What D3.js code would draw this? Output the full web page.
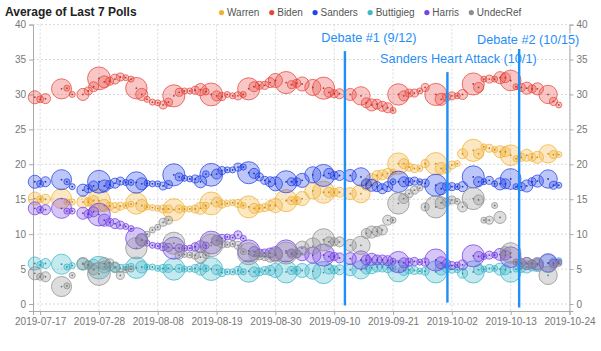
<!DOCTYPE html>
<html>
<head>
<meta charset="utf-8">
<script src="https://cdn.jsdelivr.net/npm/d3@7"></script>
<style>
  body { margin: 0; background: #fff; font-family: "Liberation Sans", Arial, sans-serif; }
</style>
</head>
<body>
<div id="chart"></div>
<script>
/* ----------------------- Data ----------------------- */
const pollDates = [
  "2019-07-16","2019-07-17","2019-07-18","2019-07-21","2019-07-22","2019-07-23","2019-07-25","2019-07-26","2019-07-27","2019-07-28",
  "2019-07-29","2019-07-30","2019-07-31","2019-08-01","2019-08-02","2019-08-03","2019-08-04","2019-08-05","2019-08-06","2019-08-07",
  "2019-08-08","2019-08-09","2019-08-10","2019-08-11","2019-08-12","2019-08-13","2019-08-14","2019-08-15","2019-08-16","2019-08-17",
  "2019-08-18","2019-08-19","2019-08-20","2019-08-21","2019-08-22","2019-08-23","2019-08-24","2019-08-25","2019-08-26","2019-08-27",
  "2019-08-28","2019-08-29","2019-08-30","2019-09-01","2019-09-02","2019-09-03","2019-09-04","2019-09-06","2019-09-08","2019-09-09",
  "2019-09-10","2019-09-11","2019-09-13","2019-09-15","2019-09-16","2019-09-17","2019-09-18","2019-09-19","2019-09-20","2019-09-21",
  "2019-09-22","2019-09-23","2019-09-24","2019-09-25","2019-09-26","2019-09-27","2019-09-29","2019-09-30","2019-10-01","2019-10-02",
  "2019-10-03","2019-10-04","2019-10-06","2019-10-07","2019-10-08","2019-10-09","2019-10-10","2019-10-11","2019-10-12","2019-10-13",
  "2019-10-14","2019-10-15","2019-10-16","2019-10-17","2019-10-18","2019-10-20","2019-10-21","2019-10-22"
];

// sample size of the poll released that day
const sampleSizes = [
  5600,1600,3300,13200,1200,1200,4800,2100,3300,17000,
  4800,2100,3300,2100,1200,1200,15000,4800,1200,1200,
  1200,2100,2100,16000,2100,1200,1200,2100,4800,1500,
  17000,3300,2100,1200,1200,2100,1200,16000,3300,2100,
  2100,3300,6500,16000,2100,2100,6500,8500,16000,3300,
  2100,3300,4800,11000,3300,4800,3300,3300,3300,1200,
  15000,3300,2100,2100,1200,2100,16000,4800,2100,2100,
  1200,3300,16000,3300,1200,2100,1200,4800,3300,14000,
  1200,2100,4800,2100,4800,11000,2100,1200
];

const warren = [
  15.1,15.0,15.0,15.1,14.6,14.6,14.6,14.6,14.8,14.8,
  14.1,14.0,13.8,14.0,14.1,14.3,14.4,14.1,13.9,13.8,
  13.7,13.6,13.6,13.5,13.6,13.6,13.6,13.6,13.7,14.1,
  14.4,14.6,14.3,14.4,14.5,14.4,14.1,13.9,13.7,13.7,
  13.8,14.1,14.1,14.8,14.8,14.8,15.1,16.2,16.0,16.0,
  16.0,16.0,15.8,15.8,17.0,17.8,18.4,18.5,18.7,18.9,
  20.1,20.1,19.6,19.4,19.4,20.1,20.1,19.4,19.3,19.9,
  20.1,21.5,22.0,21.5,22.5,22.3,22.1,21.8,21.8,21.3,
  20.8,21.0,21.3,21.0,21.0,21.5,21.4,21.4
];

const biden = [
  29.6,29.3,29.4,30.8,30.9,30.0,30.0,30.5,31.1,32.3,
  31.8,31.9,32.2,32.5,32.4,32.2,30.9,30.0,29.3,28.9,
  28.8,28.5,28.9,29.8,30.3,30.5,30.5,30.6,30.7,30.4,
  30.0,29.8,29.7,30.0,29.8,29.8,30.0,30.8,31.1,31.3,
  31.3,31.7,32.0,31.7,31.4,31.6,31.5,31.0,30.9,30.3,
  30.1,30.1,30.0,29.8,28.8,28.5,28.6,28.3,28.1,27.7,
  30.0,29.8,30.2,30.2,30.5,31.0,30.0,29.3,29.6,29.8,
  29.8,30.0,31.5,31.0,32.2,32.2,32.2,32.4,32.4,32.0,
  31.1,31.0,30.9,30.8,30.8,30.0,29.0,28.5
];

const sanders = [
  17.5,17.2,17.5,17.8,17.5,16.8,16.3,16.5,16.9,17.5,
  16.9,17.1,17.3,17.6,17.4,17.4,17.4,17.2,17.3,17.2,
  17.2,16.9,17.1,18.5,18.2,18.0,17.9,17.9,17.5,18.6,
  18.5,18.6,19.1,19.2,19.2,19.6,19.6,18.8,18.7,18.2,
  17.7,17.5,17.2,17.5,17.5,17.5,17.7,18.5,18.4,18.7,
  18.4,18.4,18.4,18.2,17.2,17.0,16.8,16.5,16.8,17.5,
  17.5,17.5,17.5,17.6,17.5,17.3,17.0,16.5,16.8,16.8,
  16.8,16.8,18.2,17.5,17.5,17.7,17.2,17.2,17.2,17.9,
  16.8,16.8,16.9,17.5,17.6,17.9,17.0,17.0
];

const buttigieg = [
  5.8,5.6,5.8,5.7,5.3,5.5,5.7,5.6,5.7,5.2,
  5.3,5.3,5.3,5.1,5.3,5.4,5.2,5.3,5.3,5.3,
  5.1,5.1,5.1,5.0,5.1,5.0,5.0,5.1,5.0,5.1,
  5.0,4.9,4.5,4.6,4.6,4.8,4.6,4.7,4.6,4.6,
  4.8,4.8,4.8,4.6,4.8,4.8,4.8,4.7,4.5,5.0,
  4.9,4.9,4.9,4.9,5.0,5.2,5.3,5.3,5.2,5.1,
  4.7,4.8,4.9,4.8,4.7,4.7,4.6,5.0,5.1,5.0,
  4.9,4.4,4.6,4.9,5.0,5.1,5.1,5.0,4.9,4.6,
  5.0,5.1,5.3,5.3,5.5,5.8,6.0,6.2
];

const harris = [
  13.7,13.5,13.5,13.7,13.3,13.3,13.0,12.9,13.2,12.8,
  12.0,11.7,11.5,11.3,11.1,10.8,9.4,9.2,8.7,8.4,
  8.3,8.2,8.1,8.0,8.0,8.0,8.0,8.2,8.2,8.4,
  8.8,9.1,9.4,9.6,9.5,9.9,9.4,7.6,7.5,7.3,
  7.3,7.3,7.2,7.6,7.3,7.2,7.2,7.0,7.0,6.8,
  6.8,6.6,6.5,6.3,6.3,6.4,6.3,6.3,6.2,6.1,
  6.0,5.9,6.0,6.1,6.0,6.0,6.3,5.9,5.8,5.5,
  5.6,5.6,6.9,6.8,6.8,7.0,7.0,7.1,7.0,6.7,
  6.0,5.9,5.8,5.7,5.7,5.9,5.8,6.0
];

const undecRef = [
  4.4,3.9,3.9,2.5,2.6,4.1,5.8,5.6,4.9,4.3,
  5.8,5.9,5.2,4.1,4.9,5.0,8.0,9.1,10.0,10.6,
  11.0,11.7,12.0,8.7,7.0,7.1,7.0,7.0,6.7,7.0,
  8.4,9.1,8.6,8.5,8.6,8.4,7.5,7.2,7.0,6.9,
  6.8,6.7,7.0,7.3,7.1,7.2,8.0,8.3,9.2,8.9,
  8.9,8.9,8.4,8.4,10.1,10.3,10.4,10.6,12.0,12.0,
  14.4,15.1,15.8,16.3,16.6,13.9,13.9,14.5,14.6,14.9,
  14.7,13.9,15.1,14.9,12.0,12.0,14.1,12.4,7.5,7.3,
  6.0,5.9,5.8,5.8,5.8,4.1,5.6,5.8
];

const candidates = ["Warren", "Biden", "Sanders", "Buttigieg", "Harris", "UndecRef"];
const seriesValues = [warren, biden, sanders, buttigieg, harris, undecRef];
const candidateColors = ["#f2b134", "#e8473e", "#2443e8", "#3db7c9", "#7442e6", "#8d8d8d"];

const xTickLabels = [
  "2019-07-17","2019-07-28","2019-08-08","2019-08-19","2019-08-30",
  "2019-09-10","2019-09-21","2019-10-02","2019-10-13","2019-10-24"
];
const yTickValues = [0, 5, 10, 15, 20, 25, 30, 35, 40];

// events drawn by hand on the chart: [from, to] in poll-average units
const eventLabels = ["Debate #1 (9/12)", "Sanders Heart Attack (10/1)", "Debate #2 (10/15)"];
const eventDates = ["2019-09-12T00:00", "2019-10-01T04:00", "2019-10-14T14:00"];
const eventExtents = [[36.2, -0.2], [33.2, 0.2], [36.5, -0.5]];

/* ----------------------- Dimensions ----------------------- */
const W = 601, H = 351;
const plot = { left: 33, right: 569.5, top: 24.6, bottom: 311 };

const parseDay = d3.timeParse("%Y-%m-%d");
const parseTime = d3.timeParse("%Y-%m-%dT%H:%M");

const svg = d3.select("#chart").append("svg")
  .attr("width", W)
  .attr("height", H)
  .style("display", "block");

/* ----------------------- Scales ----------------------- */
const x = d3.scaleTime()
  .domain([new Date(2019, 6, 15, 16), new Date(2019, 9, 24)])
  .range([plot.left, plot.right]);

const y = d3.scaleLinear()
  .domain([-1, 40])
  .range([plot.bottom, plot.top]);

const r = d3.scaleSqrt().domain([0, 17000]).range([0, 11.4]);

const color = d3.scaleOrdinal().domain(candidates).range(candidateColors);

/* ----------------------- Grid ----------------------- */
const grid = svg.append("g").attr("stroke", "#d9d9d9").attr("stroke-dasharray", "2,2");
grid.selectAll(".hgrid")
  .data(yTickValues)
  .join("line")
  .attr("x1", plot.left).attr("x2", plot.right)
  .attr("y1", (d) => y(d)).attr("y2", (d) => y(d));

grid.selectAll(".vgrid")
  .data(xTickLabels.map(parseDay))
  .join("line")
  .attr("x1", (d) => x(d)).attr("x2", (d) => x(d))
  .attr("y1", plot.top).attr("y2", plot.bottom);

/* ----------------------- Axes ----------------------- */
function styleAxis(g) {
  g.selectAll(".domain").attr("stroke", "#aaa");
  g.selectAll(".tick line").attr("stroke", "#aaa");
  g.selectAll(".tick text")
    .attr("fill", "#777")
    .style("font-size", "10px")
    .style("font-family", "'Liberation Sans', Arial, sans-serif");
}

svg.append("g")
  .attr("transform", `translate(${plot.left},0)`)
  .call(d3.axisLeft(y).tickValues(yTickValues).tickSize(4).tickPadding(3))
  .call(styleAxis);

svg.append("g")
  .attr("transform", `translate(${plot.right},0)`)
  .call(d3.axisRight(y).tickValues(yTickValues).tickSize(4).tickPadding(3))
  .call(styleAxis);

svg.append("g")
  .attr("transform", `translate(0,${plot.bottom})`)
  .call(
    d3.axisBottom(x)
      .tickValues(xTickLabels.map(parseDay))
      .tickFormat(d3.timeFormat("%Y-%m-%d"))
      .tickSize(4)
      .tickPadding(3)
  )
  .call(styleAxis);

/* ----------------------- Bubbles ----------------------- */
const rows = pollDates.map((d, i) => ({ date: parseDay(d), n: sampleSizes[i] }));

candidates.forEach((name, ci) => {
  const pts = rows.map((row, i) => ({ ...row, value: seriesValues[ci][i] }));
  const g = svg.append("g").attr("class", "series");

  g.selectAll("circle.bubble")
    .data(pts)
    .join("circle")
    .attr("class", "bubble")
    .attr("cx", (d) => x(d.date))
    .attr("cy", (d) => y(d.value))
    .attr("r", (d) => r(d.n))
    .attr("fill", color(name))
    .attr("fill-opacity", 0.3)
    .attr("stroke", color(name))
    .attr("stroke-opacity", 0.75)
    .attr("stroke-width", 1);

  g.selectAll("circle.center")
    .data(pts)
    .join("circle")
    .attr("class", "center")
    .attr("cx", (d) => x(d.date))
    .attr("cy", (d) => y(d.value))
    .attr("r", 0.9)
    .attr("fill", d3.color(color(name)).darker(0.6));
});

/* ----------------------- Annotations ----------------------- */
const eventBlue = "#1f8ef5";
const labelLayout = [
  { dx: 24, y: 41.5 },
  { dx: 11, y: 62.5 },
  { dx: 9, y: 44 },
];

const ann = svg.append("g");
eventLabels.forEach((label, i) => {
  const ex = x(parseTime(eventDates[i]));
  ann.append("line")
    .attr("x1", ex).attr("x2", ex)
    .attr("y1", y(eventExtents[i][0]))
    .attr("y2", y(eventExtents[i][1]))
    .attr("stroke", eventBlue)
    .attr("stroke-width", 2.4);

  ann.append("text")
    .attr("x", ex + labelLayout[i].dx)
    .attr("y", labelLayout[i].y)
    .attr("text-anchor", "middle")
    .style("font-size", "12.7px")
    .style("paint-order", "stroke")
    .attr("stroke", "#fff")
    .attr("stroke-width", 3)
    .attr("stroke-linejoin", "round")
    .attr("fill", eventBlue)
    .text(label);
});

/* ----------------------- Title & legend ----------------------- */
svg.append("text")
  .attr("x", 5)
  .attr("y", 16)
  .style("font-size", "12px")
  .style("font-weight", "bold")
  .attr("fill", "#222")
  .text("Average of Last 7 Polls");

const legend = svg.append("g").attr("transform", "translate(221.5,12.6)");
let lx = 0;
candidates.forEach((name) => {
  const item = legend.append("g").attr("transform", `translate(${lx},0)`);
  item.append("circle").attr("r", 2.6).attr("fill", color(name));
  const t = item.append("text")
    .attr("x", 5.5)
    .attr("y", 3.6)
    .style("font-size", "10px")
    .attr("fill", "#555")
    .text(name);
  lx += 5.5 + t.node().getComputedTextLength() + 12.3;
});
</script>
</body>
</html>
